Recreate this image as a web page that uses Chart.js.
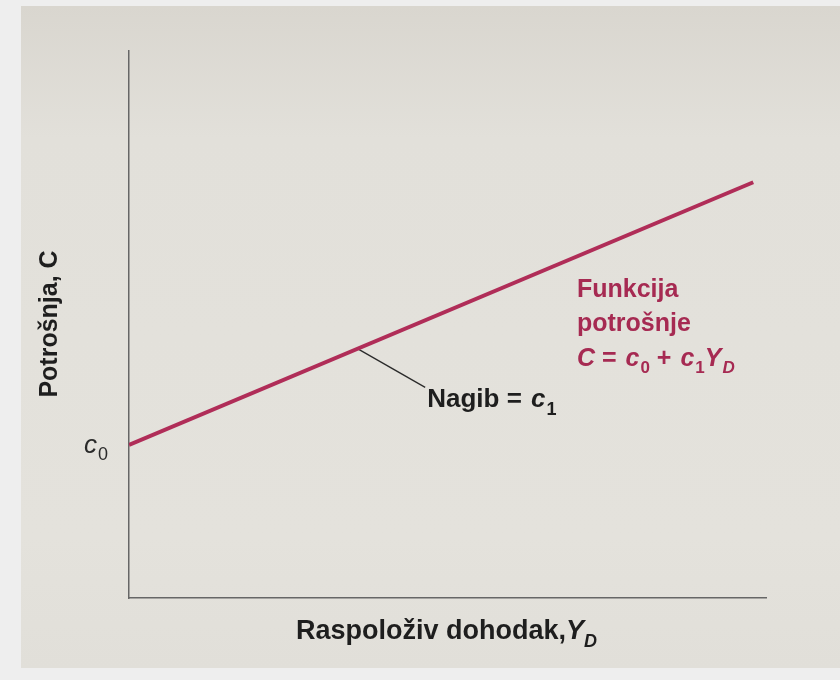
<!DOCTYPE html>
<html>
<head>
<meta charset="utf-8">
<script src="https://cdn.jsdelivr.net/npm/chart.js@4/dist/chart.umd.min.js"></script>
<style>
  html, body { margin: 0; padding: 0; background: #eeeeee; }
  #page {
    position: absolute; left: 21px; top: 6px; width: 819px; height: 662px;
    background: linear-gradient(#d9d6cf, #e2e0da 20%, #e4e2dc 80%, #e1dfd9);
  }
  #wrap { position: absolute; left: 0; top: 0; width: 840px; height: 680px; }
</style>
</head>
<body>
<div id="page"></div>
<div id="wrap"><canvas id="chart" width="840" height="680"></canvas></div>
<script>
// consumption function: C = c0 + c1 * YD (arbitrary units)
const incomeX = [0, 9.8];
const consumptionY = [2.8, 7.6];
// short pointer from the line to the "Nagib" label
const leaderX = [3.6, 4.65];
const leaderY = [4.55, 3.85];

const axisX = { min: 0, max: 10 };
const axisY = { min: 0, max: 10 };

const lineColor = '#b02d58';
const textFont = '"Liberation Sans", Arial, sans-serif';

// draws a row of text pieces; sub pieces are smaller and shifted down
function drawRich(ctx, x, y, parts, size) {
  ctx.textBaseline = 'alphabetic';
  ctx.textAlign = 'left';
  parts.forEach(p => {
    const s = p.sub ? Math.round(size * 0.68) : size;
    ctx.font = (p.italic ? 'italic ' : '') + (p.bold === false ? '' : 'bold ') + s + 'px ' + textFont;
    ctx.fillText(p.t, x, y + (p.sub ? size * 0.28 : 0));
    x += ctx.measureText(p.t).width + (p.gap || 0);
  });
}

const labelsPlugin = {
  id: 'labels',
  afterDraw(chart) {
    const ctx = chart.ctx;
    const xs = chart.scales.x, ys = chart.scales.y;
    const area = chart.chartArea;
    ctx.save();

    // c0 on the vertical axis
    ctx.fillStyle = '#2a2a2a';
    const c0y = ys.getPixelForValue(consumptionY[0]);
    drawRich(ctx, area.left - 45, c0y + 8, [
      { t: 'c', italic: true, bold: false, gap: 1 },
      { t: '0', sub: true, bold: false }
    ], 26);

    // curve label
    ctx.fillStyle = '#a62a52';
    const lx = 577;
    drawRich(ctx, lx, 297, [{ t: 'Funkcija' }], 25);
    drawRich(ctx, lx, 331, [{ t: 'potrošnje' }], 25);
    drawRich(ctx, lx, 366, [
      { t: 'C', italic: true }, { t: ' = ', gap: 2 }, { t: 'c', italic: true, gap: 1 }, { t: '0', sub: true },
      { t: ' + ', gap: 2 }, { t: 'c', italic: true, gap: 1 }, { t: '1', sub: true },
      { t: 'Y', italic: true, gap: 1 }, { t: 'D', italic: true, sub: true }
    ], 25);

    // slope label at the end of the pointer
    ctx.fillStyle = '#1e1e1e';
    const nx = xs.getPixelForValue(leaderX[1]) + 2;
    const ny = ys.getPixelForValue(leaderY[1]) + 20;
    drawRich(ctx, nx, ny, [
      { t: 'Nagib = ', gap: 2 }, { t: 'c', italic: true, gap: 1 }, { t: '1', sub: true }
    ], 26);

    // axis titles
    ctx.fillStyle = '#1e1e1e';
    ctx.save();
    ctx.translate(57, 324);
    ctx.rotate(-Math.PI / 2);
    ctx.font = 'bold 25px ' + textFont;
    ctx.textAlign = 'center';
    ctx.textBaseline = 'alphabetic';
    ctx.fillText('Potrošnja, C', 0, 0);
    ctx.restore();

    ctx.font = 'bold 27px ' + textFont;
    const xt = 'Raspoloživ dohodak,';
    const w1 = ctx.measureText(xt).width;
    ctx.font = 'italic bold 27px ' + textFont;
    const w2 = ctx.measureText('Y').width;
    const startX = 447 - (w1 + w2 + 14) / 2;
    drawRich(ctx, startX, 639, [
      { t: xt }, { t: 'Y', italic: true }, { t: 'D', italic: true, sub: true }
    ], 27);

    ctx.restore();
  }
};

const ctx = document.getElementById('chart').getContext('2d');
new Chart(ctx, {
  type: 'scatter',
  data: {
    datasets: [
      {
        label: 'Funkcija potrošnje',
        data: incomeX.map((x, i) => ({ x: x, y: consumptionY[i] })),
        showLine: true,
        borderColor: lineColor,
        borderWidth: 4,
        pointRadius: 0,
        fill: false
      },
      {
        label: 'Nagib',
        data: leaderX.map((x, i) => ({ x: x, y: leaderY[i] })),
        showLine: true,
        borderColor: '#2a2a2a',
        borderWidth: 1.3,
        pointRadius: 0,
        fill: false
      }
    ]
  },
  options: {
    responsive: false,
    animation: false,
    layout: { padding: { left: 121, right: 74, top: 51, bottom: 74 } },
    plugins: {
      legend: { display: false },
      tooltip: { enabled: false }
    },
    scales: {
      x: {
        type: 'linear',
        min: axisX.min,
        max: axisX.max,
        grid: { display: false },
        ticks: { display: false },
        border: { display: true, color: '#666666', width: 1.5 }
      },
      y: {
        type: 'linear',
        min: axisY.min,
        max: axisY.max,
        grid: { display: false },
        ticks: { display: false },
        border: { display: true, color: '#666666', width: 1.5 }
      }
    }
  },
  plugins: [labelsPlugin]
});
</script>
</body>
</html>
